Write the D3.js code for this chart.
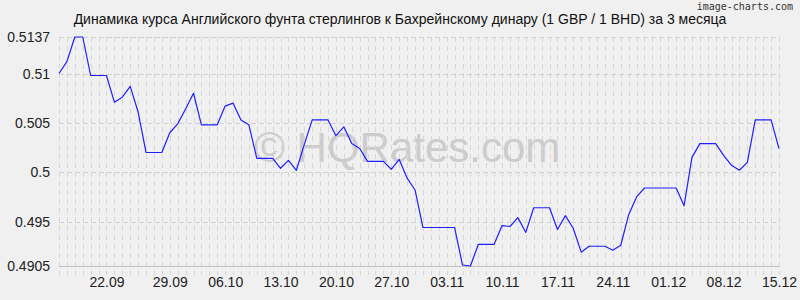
<!DOCTYPE html>
<html>
<head>
<meta charset="utf-8">
<script src="https://cdnjs.cloudflare.com/ajax/libs/d3/7.8.5/d3.min.js"></script>
<style>
  body { margin: 0; background: #f0f0f0; }
  svg { display: block; font-family: "Liberation Sans", Arial, sans-serif; }
</style>
</head>
<body>
<div id="chart"></div>
<script>
// GBP/BHD daily rates, 3 months
var rates = [
  0.5100, 0.5112, 0.5137, 0.5137, 0.5098, 0.5098, 0.5098, 0.5071, 0.5076, 0.5087,
  0.5061, 0.5020, 0.5020, 0.5020, 0.5040, 0.5049, 0.5064, 0.5080, 0.5048, 0.5048,
  0.5048, 0.5067, 0.5070, 0.5053, 0.5048, 0.5014, 0.5014, 0.5014, 0.5004, 0.5012,
  0.5002, 0.5028, 0.5053, 0.5053, 0.5053, 0.5037, 0.5046, 0.5029, 0.5024, 0.5011,
  0.5011, 0.5011, 0.5003, 0.5013, 0.4994, 0.4982, 0.4944, 0.4944, 0.4944, 0.4944,
  0.4944, 0.4906, 0.4905, 0.4927, 0.4927, 0.4927, 0.4946, 0.4945, 0.4954, 0.4939,
  0.4964, 0.4964, 0.4964, 0.4942, 0.4956, 0.4943, 0.4919, 0.4925, 0.4925, 0.4925,
  0.4921, 0.4926, 0.4957, 0.4975, 0.4984, 0.4984, 0.4984, 0.4984, 0.4984, 0.4966,
  0.5015, 0.5029, 0.5029, 0.5029, 0.5017, 0.5007, 0.5002, 0.5010, 0.5053, 0.5053,
  0.5053, 0.5024
];

var dateLabels = ["22.09", "29.09", "06.10", "13.10", "20.10", "27.10", "03.11",
                  "10.11", "17.11", "24.11", "01.12", "08.12", "15.12"];
var dateIndex = [6, 14, 21, 28, 35, 42, 49, 56, 63, 70, 77, 84, 91];

var yTicks = [0.4905, 0.495, 0.5, 0.505, 0.51, 0.5137];

var W = 800, H = 300;
var plot = { left: 59, right: 779, top: 37, bottom: 266 };

var svg = d3.select("#chart").append("svg")
  .attr("width", W).attr("height", H);

svg.append("rect").attr("width", W).attr("height", H).attr("fill", "#f0f0f0");

var x = d3.scaleLinear().domain([0, rates.length - 1]).range([plot.left, plot.right]);
var y = d3.scaleLinear().domain([0.4905, 0.5137]).range([plot.bottom, plot.top]);

// watermark
svg.append("text")
  .attr("x", 254).attr("y", 162)
  .attr("font-size", 42)
  .attr("fill", "#cccccc")
  .text("\u00a9 HQRates.com");

// vertical grid, one per day
svg.append("g").selectAll("line")
  .data(d3.range(rates.length))
  .enter().append("line")
  .attr("x1", function(d) { return Math.round(x(d)) + 0.5; })
  .attr("x2", function(d) { return Math.round(x(d)) + 0.5; })
  .attr("y1", plot.top).attr("y2", plot.bottom + 9)
  .attr("stroke", "#d6d6d6")
  .attr("stroke-dasharray", "5,4");

// horizontal grid
svg.append("g").selectAll("line")
  .data(yTicks.slice(1))
  .enter().append("line")
  .attr("x1", plot.left).attr("x2", plot.right)
  .attr("y1", function(d) { return Math.round(y(d)) + 0.5; })
  .attr("y2", function(d) { return Math.round(y(d)) + 0.5; })
  .attr("stroke", "#d2d2d2")
  .attr("stroke-dasharray", "5,3");

// bottom axis line
svg.append("line")
  .attr("x1", plot.left).attr("x2", plot.right)
  .attr("y1", plot.bottom + 0.5).attr("y2", plot.bottom + 0.5)
  .attr("stroke", "#c0c0c0");

// y axis labels
var yAxis = d3.axisLeft(y).tickValues(yTicks).tickSize(0).tickPadding(9)
  .tickFormat(function(d) { return String(d); });
var gy = svg.append("g").attr("transform", "translate(" + plot.left + ",0)").call(yAxis);
gy.select(".domain").remove();
gy.selectAll("text").attr("font-size", 14).attr("fill", "#222")
  .attr("font-family", "Liberation Sans, Arial, sans-serif");

// x axis labels
var xAxis = d3.axisBottom(x).tickValues(dateIndex).tickSize(0).tickPadding(11)
  .tickFormat(function(d, i) { return dateLabels[i]; });
var gx = svg.append("g").attr("transform", "translate(0," + plot.bottom + ")").call(xAxis);
gx.select(".domain").remove();
gx.selectAll("text").attr("font-size", 14).attr("fill", "#222")
  .attr("font-family", "Liberation Sans, Arial, sans-serif");

// rate line
var line = d3.line()
  .x(function(d, i) { return x(i); })
  .y(function(d) { return y(d); });

svg.append("path")
  .datum(rates)
  .attr("d", line)
  .attr("fill", "none")
  .attr("stroke", "#1f1fff")
  .attr("stroke-width", 1.2)
  .attr("stroke-linejoin", "round");

// title
svg.append("text")
  .attr("x", 400).attr("y", 24)
  .attr("text-anchor", "middle")
  .attr("font-size", 14)
  .attr("fill", "#111")
  .text("Динамика курса Английского фунта стерлингов к Бахрейнскому динару (1 GBP / 1 BHD) за 3 месяца");

svg.append("text")
  .attr("x", 793).attr("y", 10)
  .attr("text-anchor", "end")
  .attr("font-size", 10)
  .attr("font-family", "DejaVu Sans Mono, monospace")
  .attr("fill", "#333")
  .text("image-charts.com");
</script>
</body>
</html>
